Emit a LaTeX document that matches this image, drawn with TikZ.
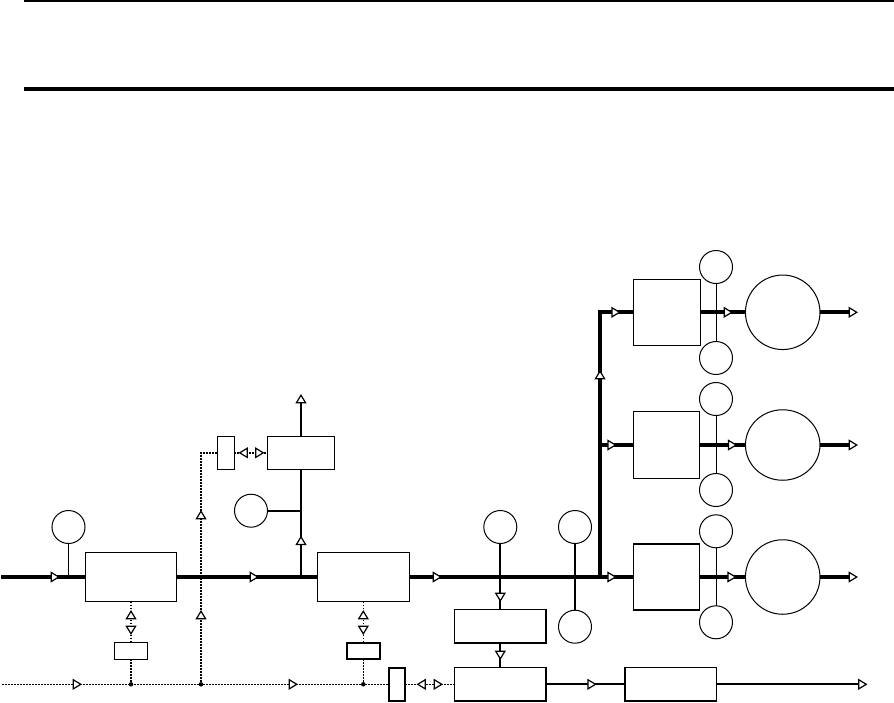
\documentclass[tikz,border=0pt]{standalone}
\usetikzlibrary{shapes.geometric}
\tikzset{
  x=1pt,y=-1pt,
  boxn/.style={draw=black,fill=white,rectangle,line width=1.1pt,inner sep=0pt,outer sep=0pt},
  boxh/.style={boxn,line width=1.6pt},
  circn/.style={draw=black,fill=white,circle,line width=1pt,inner sep=0pt,outer sep=0pt,minimum size=33pt},
  bigc/.style={draw=black,fill=white,circle,line width=1pt,inner sep=0pt,outer sep=0pt,minimum size=74.5pt},
  bige/.style={draw=black,fill=white,ellipse,line width=1pt,inner sep=0pt,outer sep=0pt,minimum width=74.5pt,minimum height=70.5pt},
  heavy/.style={line width=4pt},
  medium/.style={line width=2pt},
  slim/.style={line width=1pt},
  ctrl/.style={line width=1.6pt,dash pattern=on 1.8pt off 1.2pt},
  tipmark/.style={draw=black,fill=white,line width=1.2pt,line join=miter},
  jdot/.style={fill=black,circle,inner sep=0pt,minimum size=4.5pt},
  triR/.pic={\path[tipmark] (-3.8,-4.6)--(3.8,0)--(-3.8,4.6)--cycle;},
  triL/.pic={\path[tipmark] (3.8,-4.6)--(-3.8,0)--(3.8,4.6)--cycle;},
  triU/.pic={\path[tipmark] (-4.6,3.8)--(0,-3.8)--(4.6,3.8)--cycle;},
  triD/.pic={\path[tipmark] (-4.6,-3.8)--(0,3.8)--(4.6,-3.8)--cycle;},
}
\begin{document}
\begin{tikzpicture}
\useasboundingbox (0,0) rectangle (894,702);
% header rules
\coordinate (r1a) at (24,1); \coordinate (r1b) at (894,1);
\coordinate (r2a) at (24,88.7); \coordinate (r2b) at (894,88.7);
\draw[medium] (r1a) -- (r1b);
\draw[heavy] (r2a) -- (r2b);

% nodes
\node[boxn,minimum width=91pt,minimum height=49pt] (A) at (131,577) {};
\node[boxn,minimum width=92pt,minimum height=49pt] (B) at (363.3,577) {};
\node[boxn,minimum width=66.7pt,minimum height=33pt] (T) at (301,452.8) {};
\node[boxn,minimum width=16.7pt,minimum height=33pt] (Ts) at (226,452.8) {};
\node[boxn,minimum width=33pt,minimum height=16.7pt] (Sa) at (131,651) {};
\node[boxh,line width=2pt,minimum width=33.3pt,minimum height=16.7pt] (Sb) at (363.3,651) {};
\node[boxh,line width=2pt,minimum width=16.3pt,minimum height=33.3pt] (Tall) at (396.8,684.3) {};
\node[boxh,minimum width=91.3pt,minimum height=33.3pt] (M) at (500.3,626.3) {};
\node[boxh,minimum width=91.3pt,minimum height=33.3pt] (L) at (500.3,684.3) {};
\node[boxh,minimum width=91.7pt,minimum height=33.3pt] (R) at (670.8,684.3) {};
\node[boxn,minimum width=66.5pt,minimum height=66pt] (P1) at (666.8,312.3) {};
\node[boxn,minimum width=66.2pt,minimum height=66.7pt] (P2) at (666.4,445) {};
\node[boxn,minimum width=66.4pt,minimum height=66pt] (P3) at (666.5,577) {};
\node[circn] (C1) at (68.5,527) {};
\node[circn] (C2) at (251,510.7) {};
\node[circn] (C3) at (500.3,527) {};
\node[circn] (C4) at (575,527) {};
\node[circn] (C5) at (575,626.7) {};
\node[circn] (G1a) at (716,267) {};
\node[circn] (G1b) at (716,358) {};
\node[circn] (G2a) at (716,399) {};
\node[circn] (G2b) at (716,490) {};
\node[circn] (G3a) at (716,531.3) {};
\node[circn] (G3b) at (716,622.3) {};
\node[bigc] (E1) at (782.7,312.3) {};
\node[bige] (E2) at (782.7,445) {};
\node[bigc] (E3) at (782.7,577) {};

% free ends and junctions
\coordinate (in) at (1,577);
\coordinate (j1) at (68.5,577);
\coordinate (j2) at (301,577);
\coordinate (j3) at (301,510.7);
\coordinate (topend) at (301,397);
\coordinate (j5) at (600,577);
\coordinate (j6) at (600,445);
\coordinate (j7) at (600,312.3);
\coordinate (o1) at (851,312.3);
\coordinate (o2) at (851,445);
\coordinate (o3) at (851,577);
\coordinate (ctlin) at (2,684.3);
\node[jdot] (d1) at (131,684.3) {};
\node[jdot] (d2) at (201,684.3) {};
\node[jdot] (d3) at (363.3,684.3) {};
\coordinate (bend) at (201,452.8);
\coordinate (rout) at (862,684.3);

% heavy flows
\draw[heavy] (in) -- (A.west);
\draw[heavy] (A.east) -- (B.west);
\draw[heavy] (B.east) -- (P3.west);
\draw[heavy,line join=miter] (j5) -- (j7) -- (P1.west);
\draw[heavy] (j6) -- (P2.west);
\draw[heavy] (P1.east) -- (E1.west);
\draw[heavy] (P2.east) -- (E2.west);
\draw[heavy] (P3.east) -- (E3.west);
\draw[heavy] (E1.east) -- (o1);
\draw[heavy] (E2.east) -- (o2);
\draw[heavy] (E3.east) -- (o3);

% medium flows
\draw[medium] (j2) -- (T.south);
\draw[medium] (T.north) -- (topend);
\draw[medium] (C2.east) -- (j3);
\draw[medium] (C3.south) -- (M.north);
\draw[medium] (M.south) -- (L.north);
\draw[medium] (C4.south) -- (C5.north);
\draw[medium] (L.east) -- (R.west);
\draw[medium] (R.east) -- (rout);

% slim stems
\draw[slim] (C1.south) -- (j1);
\draw[slim] (G1a.south) -- (G1b.north);
\draw[slim] (G2a.south) -- (G2b.north);
\draw[slim] (G3a.south) -- (G3b.north);

% control lines
\draw[ctrl] (ctlin) -- (Tall.west);
\draw[ctrl] (Tall.east) -- (L.west);
\draw[ctrl] (A.south) -- (Sa.north);
\draw[ctrl] (B.south) -- (Sb.north);
\draw[ctrl] (Sa.south) -- (d1);
\draw[ctrl] (Sb.south) -- (d3);
\draw[ctrl] (d2) -- (bend) -- (Ts.west);
\draw[ctrl] (Ts.east) -- (T.west);

% arrowheads
\pic at (55,577) {triR};
\pic at (254,577) {triR};
\pic at (437,577) {triR};
\pic at (611.7,577) {triR};
\pic at (731.7,577) {triR};
\pic at (853,577) {triR};
\pic at (611.7,445) {triR};
\pic at (732.3,445) {triR};
\pic at (853,445) {triR};
\pic at (615.7,312.3) {triR};
\pic at (728,312.3) {triR};
\pic at (853,312.3) {triR};
\pic at (600,375) {triU};
\pic at (301,399) {triU};
\pic at (301,540.7) {triU};
\pic at (500.3,597) {triD};
\pic at (500.3,655) {triD};
\pic at (201,515) {triU};
\pic at (201,615) {triU};
\pic at (131,615) {triU};
\pic at (131,630) {triD};
\pic at (363.3,615) {triU};
\pic at (363.3,630) {triD};
\pic at (243.5,452.8) {triL};
\pic at (259.5,452.8) {triR};
\pic at (77,684.3) {triR};
\pic at (293,684.3) {triR};
\pic at (421.5,684.3) {triL};
\pic at (438,684.3) {triR};
\pic at (591.7,684.3) {triR};
\pic at (862.5,684.3) {triR};
\end{tikzpicture}
\end{document}
